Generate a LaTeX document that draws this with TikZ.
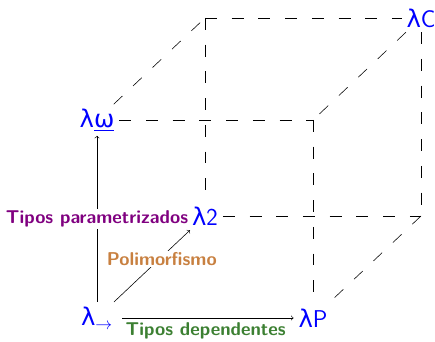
\documentclass[tikz,border=0pt]{standalone}
\usepackage{fontspec}
\newfontfamily\greekfont{DejaVu Sans}
\newcommand{\lam}{{\greekfont λ}}
\definecolor{paramc}{RGB}{128,0,128}
\definecolor{polyc}{RGB}{200,128,64}
\definecolor{depc}{RGB}{60,128,50}
\begin{document}
\begin{tikzpicture}[font=\sffamily,>=to,
    lam/.style={text=blue,font=\sffamily\LARGE},
    hidden/.style={dash pattern=on 8.5pt off 10.5pt},
    lbl/.style={font=\sffamily\bfseries\fontsize{13.2}{15}\selectfont,
        fill=white,inner sep=1pt}]
    \useasboundingbox (0,0) rectangle (10.875,8.55);

    % front face
    \node[lam] (Lst) at (2.425,0.6)  {\lam$_{\to}$};
    \node[lam] (LP)  at (7.825,0.6)  {\lam P};
    \node[lam] (Lw)  at (2.425,5.55) {{\greekfont λ\underline{ω}}};
    \coordinate (FR) at (7.825,5.55);

    % back face
    \node[lam] (L2)  at (5.125,3.15)  {\lam 2};
    \node[lam] (LC)  at (10.525,8.1)  {\lam C};
    \coordinate (BL) at (5.125,8.1);
    \coordinate (BR) at (10.525,3.15);

    % hidden edges
    \draw[hidden] (Lw) -- (FR);
    \draw[hidden] (Lw) -- (BL);
    \draw[hidden] (BL) -- (LC);
    \draw[hidden] (BL) -- (L2);
    \draw[hidden] (LC) -- (FR);
    \draw[hidden] (LC) -- (BR);
    \draw[hidden] (FR) -- (LP);
    \draw[hidden] (L2) -- (BR);
    \draw[hidden] (BR) -- (LP);

    % the three axes
    \draw[->] (Lst) -- node[lbl,text=paramc]{Tipos parametrizados} (Lw);
    \draw[->] (Lst) --
        node[lbl,text=polyc,xshift=7pt,yshift=5pt]{Polimorfismo} (L2);
    \draw[->,shorten <=3pt] (Lst) --
        node[lbl,text=depc,below=2pt]{Tipos dependentes} (LP);
\end{tikzpicture}
\end{document}
